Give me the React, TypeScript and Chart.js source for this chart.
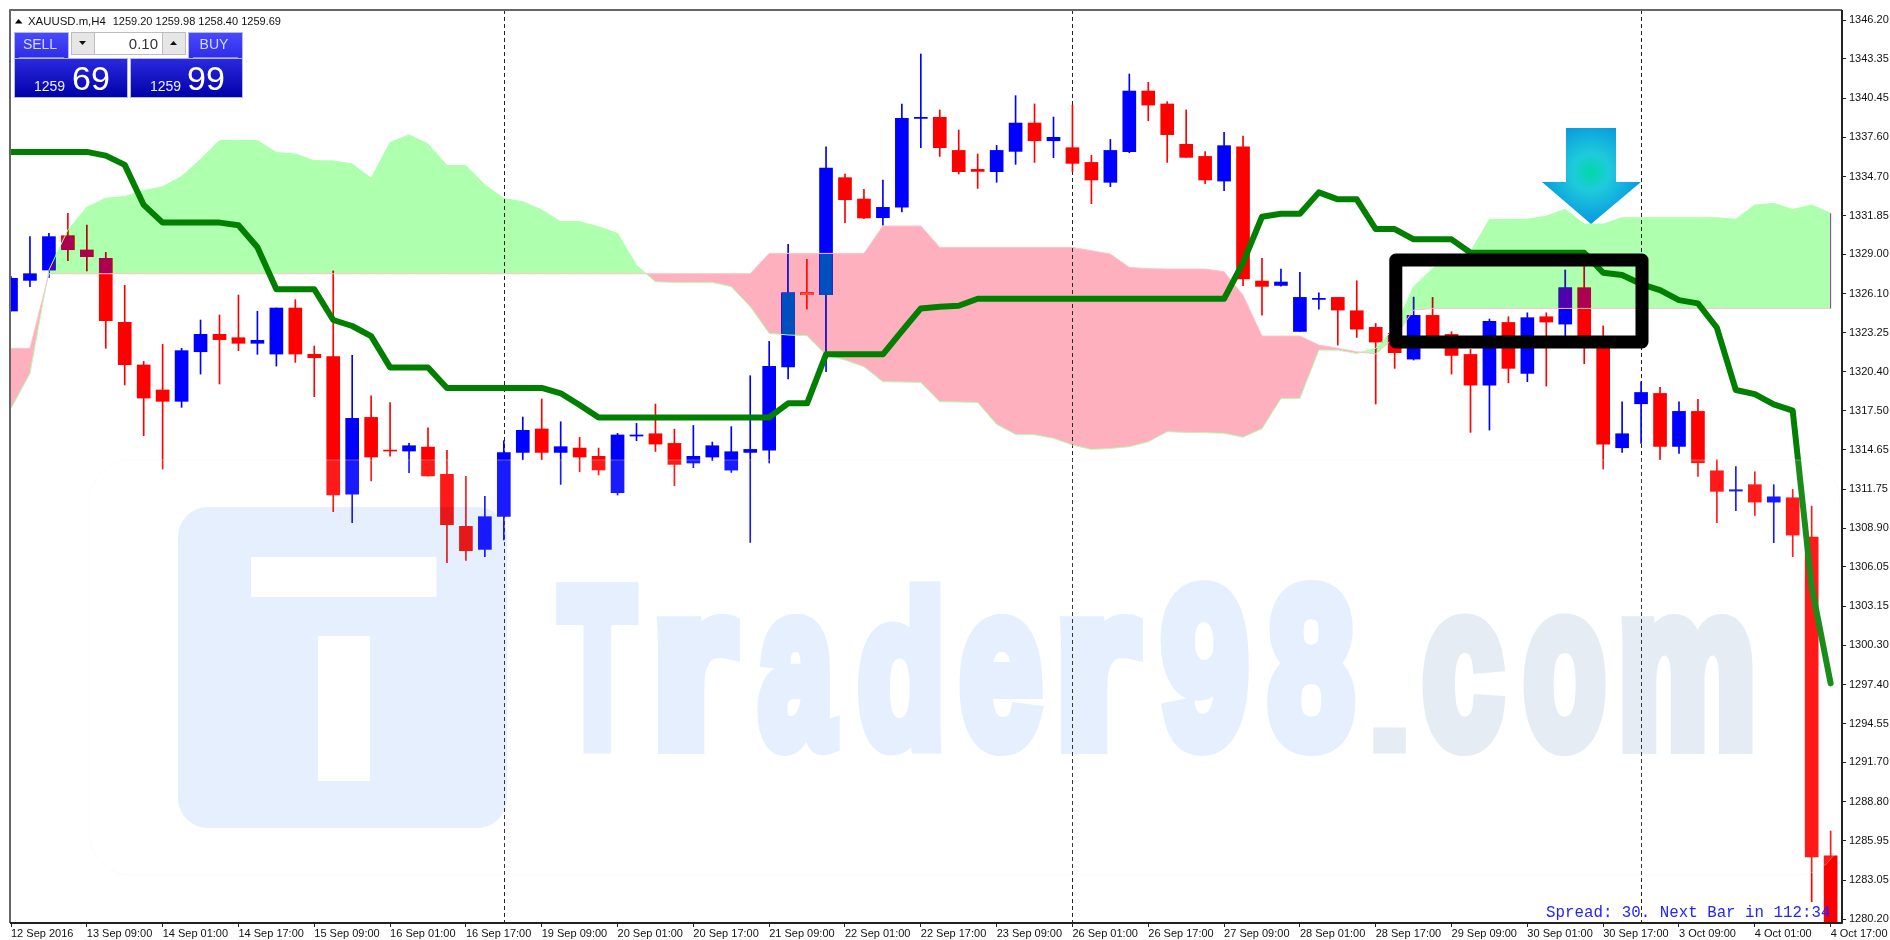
import React, { useEffect, useRef } from "react";
import { Chart, registerables } from "chart.js";

Chart.register(...registerables);

const timeLabels = ["12 Sep 2016","13 Sep 09:00","14 Sep 01:00","14 Sep 17:00","15 Sep 09:00","16 Sep 01:00","16 Sep 17:00","19 Sep 09:00","20 Sep 01:00","20 Sep 17:00","21 Sep 09:00","22 Sep 01:00","22 Sep 17:00","23 Sep 09:00","26 Sep 01:00","26 Sep 17:00","27 Sep 09:00","28 Sep 01:00","28 Sep 17:00","29 Sep 09:00","30 Sep 01:00","30 Sep 17:00","3 Oct 09:00","4 Oct 01:00","4 Oct 17:00"];
const priceTicks = [1346.2,1343.35,1340.45,1337.6,1334.7,1331.85,1329,1326.1,1323.25,1320.4,1317.5,1314.65,1311.75,1308.9,1306.05,1303.15,1300.3,1297.4,1294.55,1291.7,1288.8,1285.95,1283.05,1280.2];
const separators = [26, 56, 86];

const opens = [1324.84,1327.09,1327.85,1330.37,1329.32,1328.71,1324.01,1320.88,1319.04,1318.21,1321.85,1323.13,1322.88,1322.47,1321.68,1325.06,1321.66,1321.49,1311.40,1317.03,1314.63,1314.56,1314.85,1312.85,1309.03,1307.34,1309.76,1314.46,1316.18,1314.46,1314.78,1314.17,1311.50,1315.66,1315.83,1315.12,1313.68,1314.12,1313.16,1314.46,1314.63,1320.73,1326.18,1326.04,1334.63,1333.06,1331.69,1332.47,1338.98,1339.06,1336.63,1335.24,1335.07,1336.56,1338.64,1337.34,1336.83,1335.75,1334.29,1336.54,1340.99,1340.04,1337.08,1336.19,1334.38,1336.90,1327.04,1326.72,1323.34,1325.69,1325.84,1324.86,1323.64,1323.20,1321.31,1324.52,1323.12,1321.65,1319.40,1324.00,1320.26,1324.42,1323.88,1326.55,1322.83,1314.80,1318.03,1318.79,1314.90,1317.47,1313.11,1311.62,1312.09,1310.81,1311.13,1308.24,1284.85];
const highs = [1327.36,1330.30,1330.54,1332.01,1331.15,1329.15,1326.72,1321.14,1322.39,1322.10,1324.18,1324.55,1326.01,1324.82,1325.06,1325.67,1322.27,1327.78,1321.59,1318.62,1318.11,1315.12,1316.27,1314.61,1312.70,1311.23,1315.32,1317.06,1318.38,1316.71,1315.56,1314.78,1315.86,1316.59,1318.01,1316.17,1316.44,1315.22,1316.35,1320.09,1322.61,1329.73,1328.63,1336.90,1334.90,1333.77,1334.46,1340.04,1343.71,1339.60,1338.13,1336.37,1337.00,1340.65,1340.04,1339.08,1339.96,1336.27,1337.44,1342.24,1341.63,1340.21,1339.60,1336.54,1337.96,1337.69,1328.70,1327.92,1327.68,1326.18,1325.84,1327.06,1323.93,1323.69,1325.86,1325.84,1323.32,1322.02,1324.25,1324.42,1324.71,1324.71,1327.85,1328.09,1323.74,1318.18,1319.65,1319.23,1318.18,1318.35,1313.92,1313.41,1313.04,1312.09,1311.74,1310.52,1286.66];
const lows = [1324.84,1326.63,1327.31,1328.54,1327.78,1322.10,1319.41,1315.69,1313.24,1317.77,1320.21,1319.48,1321.93,1321.66,1320.80,1321.07,1318.55,1310.11,1309.30,1312.36,1314.19,1312.97,1312.73,1306.36,1306.53,1306.80,1308.03,1313.92,1313.92,1312.11,1313.04,1312.80,1311.33,1315.32,1314.53,1312.01,1313.34,1313.85,1312.99,1307.85,1313.68,1319.85,1324.99,1320.38,1331.32,1331.62,1331.15,1332.11,1336.83,1336.19,1334.90,1333.84,1334.29,1335.61,1335.75,1336.10,1335.07,1332.72,1333.97,1336.46,1338.81,1335.75,1336.12,1334.19,1333.67,1326.70,1324.54,1326.67,1323.34,1324.98,1322.34,1322.90,1318.01,1320.63,1321.24,1322.46,1320.21,1315.93,1316.10,1319.57,1319.65,1319.33,1322.95,1320.97,1313.24,1314.46,1315.12,1313.92,1314.39,1312.70,1309.30,1310.18,1309.83,1307.83,1306.80,1281.47,1279.50];
const closes = [1327.24,1327.58,1330.30,1329.34,1328.83,1324.13,1320.90,1318.45,1318.21,1321.93,1323.13,1322.74,1322.47,1322.69,1325.06,1321.68,1321.41,1311.33,1316.96,1314.12,1314.56,1314.95,1312.73,1309.15,1307.24,1309.74,1314.44,1316.08,1314.46,1314.88,1314.12,1313.17,1315.74,1315.74,1315.07,1313.58,1314.17,1314.95,1314.51,1314.68,1320.78,1326.18,1326.04,1335.34,1333.01,1331.67,1332.45,1338.98,1339.06,1336.83,1335.07,1335.09,1336.63,1338.64,1337.34,1337.59,1335.68,1334.46,1336.63,1340.99,1339.96,1337.79,1336.12,1334.46,1336.98,1327.19,1326.65,1326.97,1325.84,1325.77,1324.91,1323.51,1322.56,1321.78,1324.52,1322.95,1321.58,1319.40,1324.08,1320.63,1324.35,1324.03,1326.55,1322.46,1315.07,1315.83,1318.86,1314.90,1317.47,1313.70,1311.60,1311.72,1310.81,1311.20,1308.39,1284.77,1279.60];

const spanA = [1317.69,1320.26,1327.85,1330.79,1332.46,1333.12,1333.24,1333.68,1333.97,1334.71,1335.98,1337.35,1337.35,1337.35,1336.47,1336.37,1335.88,1335.86,1335.64,1334.59,1337.21,1337.77,1337.11,1335.52,1335.52,1334.10,1333.10,1332.87,1332.26,1331.40,1331.40,1331.03,1330.54,1328.20,1326.99,1326.94,1326.94,1326.94,1326.63,1325.16,1323.20,1323.08,1323.03,1321.61,1321.24,1320.75,1319.65,1319.63,1319.60,1318.18,1318.16,1318.13,1316.52,1315.78,1315.76,1315.49,1315.00,1314.68,1314.75,1314.88,1315.24,1315.98,1315.93,1315.91,1315.86,1315.58,1316.20,1318.42,1318.42,1321.97,1321.97,1321.73,1322.10,1323.60,1326.62,1327.97,1328.70,1329.19,1331.57,1331.57,1331.57,1331.81,1332.30,1331.22,1331.22,1331.69,1331.69,1331.69,1331.69,1331.69,1331.69,1331.57,1332.62,1332.74,1332.30,1332.62,1332.01];
const spanB = [1322.10,1322.10,1327.58,1327.58,1327.58,1327.58,1327.58,1327.58,1327.58,1327.58,1327.58,1327.58,1327.58,1327.58,1327.58,1327.58,1327.58,1327.58,1327.58,1327.58,1327.58,1327.58,1327.58,1327.58,1327.58,1327.58,1327.58,1327.58,1327.58,1327.58,1327.58,1327.58,1327.58,1327.58,1327.58,1327.58,1327.58,1327.58,1327.58,1327.58,1329.07,1329.07,1329.07,1329.07,1329.07,1329.07,1331.08,1331.08,1331.08,1329.51,1329.51,1329.51,1329.51,1329.51,1329.51,1329.51,1329.51,1329.27,1329.02,1328.04,1327.95,1327.92,1327.92,1327.92,1327.73,1326.00,1323.00,1323.00,1323.00,1322.34,1322.10,1321.85,1321.70,1322.90,1324.91,1325.03,1325.03,1325.03,1325.03,1325.03,1325.03,1325.03,1325.03,1325.03,1325.03,1325.03,1325.03,1325.03,1325.03,1325.03,1325.03,1325.03,1325.03,1325.03,1325.03,1325.03,1325.03];
const kijun = [1336.52,1336.52,1336.52,1336.52,1336.52,1336.25,1335.57,1332.63,1331.33,1331.33,1331.33,1331.33,1331.14,1329.52,1326.44,1326.44,1326.44,1324.18,1323.74,1323.00,1320.70,1320.70,1320.70,1319.19,1319.19,1319.19,1319.19,1319.19,1319.19,1318.80,1317.94,1317.03,1317.03,1317.03,1317.03,1317.03,1317.03,1317.03,1317.03,1317.03,1317.03,1318.06,1318.06,1321.66,1321.66,1321.66,1321.66,1323.37,1325.03,1325.16,1325.23,1325.74,1325.74,1325.74,1325.74,1325.74,1325.74,1325.74,1325.74,1325.74,1325.74,1325.74,1325.74,1325.74,1325.74,1328.40,1331.76,1331.98,1331.98,1333.55,1333.04,1333.04,1330.86,1330.86,1330.10,1330.10,1330.10,1329.12,1329.12,1329.12,1329.12,1329.12,1329.12,1329.12,1327.65,1327.48,1326.82,1326.38,1325.64,1325.40,1323.61,1319.04,1318.74,1317.98,1317.52,1304.60,1297.50];

const headerSymbol = "XAUUSD.m,H4";
const headerPrices = "1259.20 1259.98 1258.40 1259.69";
const statusText = "Spread: 30. Next Bar in 112:34";

const SANS = '"Liberation Sans", Arial, sans-serif';
const NARROW = '"Liberation Sans Narrow", "Liberation Sans", sans-serif';

function roundRectPath(ctx: CanvasRenderingContext2D, x: number, y: number, w: number, h: number, r: number) {
  ctx.moveTo(x + r, y);
  ctx.arcTo(x + w, y, x + w, y + h, r);
  ctx.arcTo(x + w, y + h, x, y + h, r);
  ctx.arcTo(x, y + h, x, y, r);
  ctx.arcTo(x, y, x + w, y, r);
  ctx.closePath();
}

// letter, left, right, top, bottom (watermark layout)
const markLetters: [string, number, number, number, number, string][] = [
  ["T", 556, 639, 582, 754, "#E5EFFD"],
  ["r", 657, 740, 613, 754, "#E5EFFD"],
  ["a", 757, 840, 613, 756, "#E5EFFD"],
  ["d", 858, 941, 582, 756, "#E5EFFD"],
  ["e", 959, 1043, 613, 756, "#E5EFFD"],
  ["r", 1060, 1143, 613, 754, "#E5EFFD"],
  ["9", 1160, 1249, 580, 756, "#E5EFFD"],
  ["8", 1267, 1356, 580, 756, "#E5EFFD"],
  [".", 1373, 1406, 728, 754, "#E6ECF4"],
  ["c", 1422, 1505, 613, 756, "#E6ECF4"],
  ["o", 1523, 1606, 613, 756, "#E6ECF4"],
  ["m", 1622, 1753, 613, 754, "#E6ECF4"],
];

function drawMark(ctx: CanvasRenderingContext2D) {
  ctx.save();
  ctx.globalCompositeOperation = "multiply";
  ctx.fillStyle = "#E5EFFD";
  ctx.beginPath();
  roundRectPath(ctx, 178, 507, 329, 321, 30);
  ctx.rect(251, 557, 185.5, 40);
  ctx.rect(318, 636, 52, 145);
  ctx.fill("evenodd");
  ctx.restore();

  const layer = document.createElement("canvas");
  layer.width = ctx.canvas.width;
  layer.height = ctx.canvas.height;
  const lc = layer.getContext("2d") as CanvasRenderingContext2D;
  lc.textBaseline = "alphabetic";
  lc.textAlign = "left";
  lc.lineJoin = "miter";
  lc.miterLimit = 3;
  lc.font = `bold 200px ${SANS}`;
  const lw = 16;
  for (const [ch, x0, x1, y0, y1, col] of markLetters) {
    const m = lc.measureText(ch);
    const gw = m.actualBoundingBoxRight + m.actualBoundingBoxLeft;
    const gh = m.actualBoundingBoxAscent + m.actualBoundingBoxDescent;
    const sx = (x1 - x0) / (gw + lw);
    const sy = (y1 - y0) / (gh + lw);
    lc.save();
    lc.translate(x0 + (m.actualBoundingBoxLeft + lw / 2) * sx, y0 + (m.actualBoundingBoxAscent + lw / 2) * sy);
    lc.scale(sx, sy);
    lc.fillStyle = col;
    lc.strokeStyle = col;
    lc.lineWidth = lw;
    lc.fillText(ch, 0, 0);
    lc.strokeText(ch, 0, 0);
    lc.restore();
  }
  ctx.save();
  ctx.globalCompositeOperation = "multiply";
  ctx.drawImage(layer, 0, 0);
  ctx.restore();
}

function drawPanel(ctx: CanvasRenderingContext2D) {
  ctx.save();
  ctx.fillStyle = "#000";
  ctx.beginPath();
  ctx.moveTo(15, 23.5);
  ctx.lineTo(18.5, 19);
  ctx.lineTo(22.5, 23.5);
  ctx.closePath();
  ctx.fill();
  ctx.textBaseline = "alphabetic";
  ctx.textAlign = "left";
  ctx.fillStyle = "#111";
  ctx.font = `11.4px ${SANS}`;
  ctx.fillText(headerSymbol, 28, 25);
  ctx.font = `11px ${SANS}`;
  ctx.fillText(headerPrices, 112.7, 25);

  const top = ctx.createLinearGradient(0, 32, 0, 58);
  top.addColorStop(0, "#4A4AFF");
  top.addColorStop(1, "#2D2DE6");
  const low = ctx.createLinearGradient(0, 58, 0, 98);
  low.addColorStop(0, "#2A2AE0");
  low.addColorStop(1, "#0000A8");
  ctx.strokeStyle = "#B8B8F0";
  ctx.lineWidth = 1;
  const box = (x: number, y: number, w: number, h: number, f: CanvasGradient | string) => {
    ctx.fillStyle = f;
    ctx.fillRect(x, y, w, h);
    ctx.strokeRect(x + 0.5, y + 0.5, w - 1, h - 1);
  };
  box(14, 32, 55, 27, top);
  box(188, 32, 55, 27, top);
  box(14, 58, 114, 40, low);
  box(130, 58, 113, 40, low);
  ctx.fillStyle = "#fff";
  ctx.fillRect(69, 30, 119, 28);
  ctx.strokeStyle = "#BDBDBD";
  ctx.strokeRect(71.5, 32.5, 114, 22);
  ctx.fillStyle = "#E6E6E6";
  ctx.fillRect(72, 33, 22, 21);
  ctx.fillRect(163, 33, 22, 21);
  ctx.strokeRect(94.5, 32.5, 68, 22);
  ctx.fillStyle = "#111";
  ctx.beginPath();
  ctx.moveTo(79, 41);
  ctx.lineTo(86, 41);
  ctx.lineTo(82.5, 45);
  ctx.closePath();
  ctx.moveTo(170, 45);
  ctx.lineTo(177, 45);
  ctx.lineTo(173.5, 41);
  ctx.closePath();
  ctx.fill();
  ctx.fillStyle = "#333";
  ctx.font = `15px ${SANS}`;
  ctx.textAlign = "right";
  ctx.fillText("0.10", 158, 49);
  ctx.strokeStyle = "#8A8AF5";
  ctx.beginPath();
  ctx.moveTo(19, 57.5);
  ctx.lineTo(64, 57.5);
  ctx.moveTo(193, 57.5);
  ctx.lineTo(238, 57.5);
  ctx.stroke();
  ctx.textAlign = "center";
  ctx.fillStyle = "#D6DCFF";
  ctx.font = `14px ${NARROW}`;
  ctx.fillText("SELL", 40, 49);
  ctx.fillText("BUY", 214, 49);
  ctx.textAlign = "left";
  ctx.fillStyle = "#EEF";
  ctx.font = `14px ${SANS}`;
  ctx.fillText("1259", 34, 91);
  ctx.fillText("1259", 150, 91);
  ctx.fillStyle = "#fff";
  ctx.font = `34px ${SANS}`;
  ctx.fillText("69", 72, 90);
  ctx.fillText("99", 187, 90);
  ctx.restore();
}

const overlay = {
  id: "overlay",
  beforeDraw(chart: any) {
    const { ctx, width, height } = chart;
    ctx.save();
    ctx.fillStyle = "#fff";
    ctx.fillRect(0, 0, width, height);
    ctx.restore();
  },
  beforeDatasetsDraw(chart: any) {
    const { ctx, chartArea: a, scales } = chart;
    ctx.save();
    ctx.strokeStyle = "#222";
    ctx.lineWidth = 1;
    ctx.setLineDash([4, 3]);
    ctx.beginPath();
    for (const i of separators) {
      const x = Math.round(scales.x.getPixelForValue(i)) + 0.5;
      ctx.moveTo(x, a.top);
      ctx.lineTo(x, a.bottom);
    }
    ctx.stroke();
    ctx.restore();
  },
  beforeDatasetDraw(chart: any, args: any) {
    if (args.index === 2) chart.ctx.globalCompositeOperation = "source-over";
  },
  afterDatasetDraw(chart: any, args: any) {
    if (args.index === 1) chart.ctx.globalCompositeOperation = "difference";
  },
  afterDatasetsDraw(chart: any) {
    const { ctx, chartArea: a, scales } = chart;
    ctx.globalCompositeOperation = "source-over";
    const lx = scales.x.getPixelForValue(spanA.length - 1);
    ctx.save();
    ctx.strokeStyle = "#7A3A90";
    ctx.lineWidth = 1;
    ctx.beginPath();
    ctx.moveTo(lx, scales.y.getPixelForValue(spanA[spanA.length - 1]));
    ctx.lineTo(lx, scales.y.getPixelForValue(spanB[spanB.length - 1]));
    ctx.stroke();
    // faint veil
    ctx.fillStyle = "rgba(255,255,255,0.1)";
    ctx.beginPath();
    roundRectPath(ctx, 89, 460, 1751, 415, 42);
    ctx.fill();
    ctx.strokeStyle = "rgba(244,244,244,0.35)";
    ctx.stroke();
    ctx.restore();
    drawMark(ctx);
    // black box
    ctx.save();
    ctx.strokeStyle = "#000";
    ctx.lineWidth = 13;
    ctx.lineJoin = "round";
    ctx.strokeRect(1395.8, 260, 246.2, 82);
    // arrow
    const g = ctx.createRadialGradient(1591, 172, 0, 1591, 172, 62);
    g.addColorStop(0, "#00D8A8");
    g.addColorStop(0.3, "#1FCADC");
    g.addColorStop(1, "#0088DE");
    ctx.fillStyle = g;
    ctx.beginPath();
    ctx.moveTo(1566, 128);
    ctx.lineTo(1616, 128);
    ctx.lineTo(1616, 182);
    ctx.lineTo(1641, 182);
    ctx.lineTo(1591, 224);
    ctx.lineTo(1542, 182);
    ctx.lineTo(1566, 182);
    ctx.closePath();
    ctx.fill();
    // frame
    ctx.lineWidth = 2;
    ctx.strokeStyle = "#666";
    ctx.beginPath();
    ctx.moveTo(a.left, a.bottom);
    ctx.lineTo(a.left, a.top);
    ctx.lineTo(a.right, a.top);
    ctx.stroke();
    ctx.strokeStyle = "#222";
    ctx.beginPath();
    ctx.moveTo(a.right, a.top);
    ctx.lineTo(a.right, a.bottom);
    ctx.lineTo(a.left, a.bottom);
    ctx.stroke();
    // status text
    ctx.fillStyle = "#2424FF";
    ctx.font = '15.8px "Liberation Mono", monospace';
    ctx.textBaseline = "alphabetic";
    ctx.textAlign = "left";
    ctx.fillText(statusText, 1546, 917);
    ctx.restore();
    drawPanel(ctx);
  },
};

export default function App() {
  const ref = useRef<HTMLCanvasElement>(null);
  useEffect(() => {
    const idx = opens.map((_, i) => i);
    const candleColor = (ctx: any) =>
      closes[ctx.dataIndex] > opens[ctx.dataIndex] ? "#0000FF" : "#FF0000";
    const chart = new Chart(ref.current as HTMLCanvasElement, {
      type: "bar",
      data: {
        datasets: [
          {
            label: "wick",
            data: idx.map((i) => ({ x: i, y: [lows[i], highs[i]] })),
            backgroundColor: candleColor,
            barThickness: 1,
            grouped: false,
            order: 5,
          },
          {
            label: "body",
            data: idx.map((i) => ({ x: i, y: [Math.min(opens[i], closes[i]), Math.max(opens[i], closes[i])] })),
            backgroundColor: candleColor,
            barThickness: 13,
            grouped: false,
            order: 4,
          },
          {
            type: "line",
            label: "Senkou A",
            data: idx.map((i) => ({ x: i, y: spanA[i] })),
            borderColor: "#AEFFAE",
            borderWidth: 1,
            pointRadius: 0,
            tension: 0,
            fill: { target: 3, above: "rgb(81,0,81)", below: "rgb(0,79,65)" },
            order: 3,
          },
          {
            type: "line",
            label: "Senkou B",
            data: idx.map((i) => ({ x: i, y: spanB[i] })),
            borderColor: "#FFC0CB",
            borderWidth: 1,
            pointRadius: 0,
            tension: 0,
            order: 2,
          },
          {
            type: "line",
            label: "Kijun",
            data: idx.map((i) => ({ x: i, y: kijun[i] })),
            borderColor: "#007F00",
            borderWidth: 6,
            borderJoinStyle: "round",
            borderCapStyle: "round",
            pointRadius: 0,
            tension: 0,
            order: 1,
          },
        ] as any,
      },
      options: {
        animation: false,
        responsive: false,
        events: [],
        layout: { padding: { left: 10, top: 10, right: 0, bottom: 0 } },
        plugins: { legend: { display: false }, tooltip: { enabled: false } },
        scales: {
          x: {
            type: "linear",
            position: "bottom",
            offset: false,
            min: -0.053,
            max: 96.6,
            grid: { offset: false, drawOnChartArea: false, drawTicks: true, tickLength: 4, color: "#222" },
            border: { display: false },
            ticks: {
              align: "start",
              autoSkip: false,
              maxRotation: 0,
              padding: 0,
              color: "#111",
              font: { family: "Liberation Sans", size: 11 },
              callback: (v: any) => timeLabels[Math.round(v / 4)] ?? "",
            },
            afterBuildTicks: (s: any) => {
              s.ticks = timeLabels.map((_, i) => ({ value: i * 4 }));
            },
            afterFit: (s: any) => {
              s.height = 17;
              s.paddingLeft = 0;
              s.paddingRight = 0;
            },
          },
          y: {
            type: "linear",
            position: "right",
            beginAtZero: false,
            min: 1279.91,
            max: 1346.94,
            grid: { drawOnChartArea: false, drawTicks: true, tickLength: 4, color: "#222" },
            border: { display: false },
            ticks: {
              padding: 3,
              color: "#111",
              font: { family: "Liberation Sans", size: 11 },
              callback: (v: any) => Number(v).toFixed(2),
            },
            afterBuildTicks: (s: any) => {
              s.ticks = priceTicks.map((value) => ({ value }));
            },
            afterFit: (s: any) => {
              s.width = 48;
              s.paddingTop = 0;
              s.paddingBottom = 0;
            },
          },
        },
      } as any,
      plugins: [overlay as any],
    });
    return () => chart.destroy();
  }, []);
  return (
    <canvas
      ref={ref}
      width={1890}
      height={940}
      style={{ position: "fixed", left: 0, top: 0, width: 1890, height: 940, display: "block", background: "#fff" }}
    />
  );
}
